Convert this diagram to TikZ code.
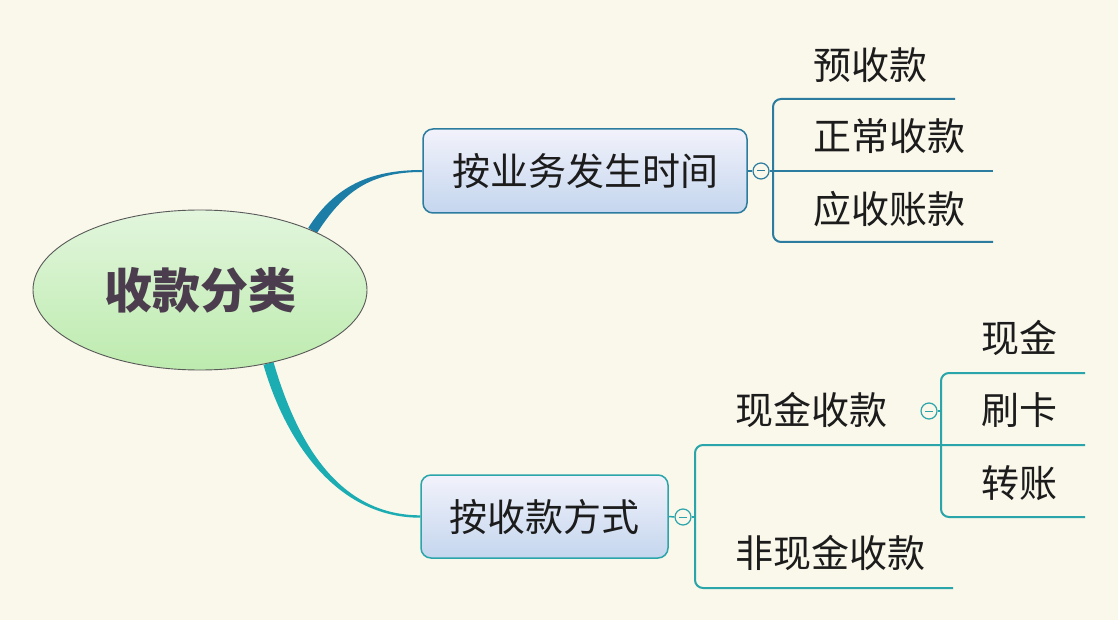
\documentclass[tikz,border=0pt]{standalone}
\usepackage{fontspec}
\setmainfont{Noto Sans CJK SC}
\usetikzlibrary{calc,shapes.geometric}
\pgfdeclarelayer{background}
\pgfdeclarelayer{bg}
\pgfsetlayers{bg,background,main}
\definecolor{bgc}{HTML}{FAF7EB}
\definecolor{topc}{HTML}{1C7EA6}
\definecolor{topl}{HTML}{2B7C9E}
\definecolor{botc}{HTML}{1CADB3}
\definecolor{botl}{HTML}{2AA5AA}
\definecolor{txt}{HTML}{1C1C1C}
\definecolor{roottxt}{HTML}{4B3D4D}
\definecolor{roottop}{HTML}{E2F6DD}
\definecolor{rootbot}{HTML}{BDEBAE}
\tikzset{
  rootnode/.style={ellipse,draw=black!65,line width=0.9pt,minimum width=334pt,minimum height=160pt,inner sep=0pt,
    top color=roottop,bottom color=rootbot,
    text=roottxt,font=\fontsize{48}{52}\selectfont\bfseries},
  topicbox/.style={rectangle,rounded corners=10pt,line width=1.5pt,inner sep=0pt,
    top color={rgb,255:red,242;green,242;blue,251},bottom color={rgb,255:red,196;green,214;blue,238},
    text=txt,font=\fontsize{38}{41}\selectfont},
  leaf/.style={anchor=west,inner sep=0pt,text=txt,font=\fontsize{38}{41}\selectfont},
  foldc/.style={circle,line width=1.2pt,minimum size=16pt,inner sep=0pt,fill=bgc},
  brline/.style={line width=2pt,rounded corners=8pt},
}
\begin{document}
\begin{tikzpicture}[x=1pt,y=-1pt]
\begin{pgfonlayer}{bg}
\fill[bgc] (0,0) rectangle (1118,620);
\end{pgfonlayer}
\useasboundingbox (0,0) rectangle (1118,620);

% root
\node[rootnode] (root) at (200,290) {收款分类};

% first-level topics
\node[topicbox,draw=topl,minimum width=324pt,minimum height=84pt] (top) at (585,171) {按业务发生时间};
\node[topicbox,draw=botl,minimum width=247pt,minimum height=83pt] (bot) at (544.5,516.5) {按收款方式};

% tapered connectors
\begin{pgfonlayer}{background}
\fill[topc] ($(root.28)+(-4,-2.5)$) .. controls +(27,-42) and +(-52,0) .. ($(top.west)+(0,-1)$)
  -- ($(top.west)+(0,1)$) .. controls +(-52,0) and +(27,-42) .. ($(root.28)+(4.5,3)$) -- cycle;
\fill[botc] ($(root.-47)+(-5,1.5)$) .. controls +(22,76) and +(-84,0) .. ($(bot.west)+(0,1.2)$)
  -- ($(bot.west)+(0,-1.2)$) .. controls +(-84,0) and +(22,76) .. ($(root.-47)+(5,-1.5)$) -- cycle;
\end{pgfonlayer}

% fold circles
\node[foldc,draw=topl] (c1) at (761,171) {};
\draw[topl,line width=1pt] ($(c1)+(-4,0)$) -- ($(c1)+(4,0)$);
\node[foldc,draw=botl] (c2) at (683,517) {};
\draw[botl,line width=1pt] ($(c2)+(-4,0)$) -- ($(c2)+(4,0)$);
\node[foldc,draw=botl] (c3) at (929,411) {};
\draw[botl,line width=1pt] ($(c3)+(-4,0)$) -- ($(c3)+(4,0)$);

% leaves, top group
\node[leaf] (l1) at (813,65) {预收款};
\node[leaf] (l2) at (813,136) {正常收款};
\node[leaf] (l3) at (813,209) {应收账款};
% leaves, bottom group
\node[leaf] (m1) at (735,410) {现金收款};
\node[leaf] (m2) at (735,553) {非现金收款};
\node[leaf] (n1) at (981,338) {现金};
\node[leaf] (n2) at (981,410) {刷卡};
\node[leaf] (n3) at (981,483) {转账};

% underline end points
\coordinate (u1) at (955,99);
\coordinate (u2) at (993,171);
\coordinate (u3) at (993,242);
\coordinate (v1) at (1085,445);
\coordinate (v2) at (953,588);
\coordinate (w1) at (1085,373);
\coordinate (w3) at (1085,517);

% top bracket
\draw[topl,line width=1.5pt] (top.east) -- (c1.west);
\draw[topl,brline] (u1) -- (773,99) -- (773,242) -- (u3);
\draw[topl,line width=2pt] (c1.east) -- (u2);

% bottom bracket
\draw[botl,line width=1.5pt] (bot.east) -- (c2.west);
\draw[botl,brline] (v1) -- (695,445) -- (695,588) -- (v2);
\draw[botl,line width=2pt] (c2.east) -- (695,517);

% second-level bracket
\draw[botl,brline] (w1) -- (941,373) -- (941,517) -- (w3);
\draw[botl,line width=2pt] (c3.east) -- (941,411);
\end{tikzpicture}
\end{document}
